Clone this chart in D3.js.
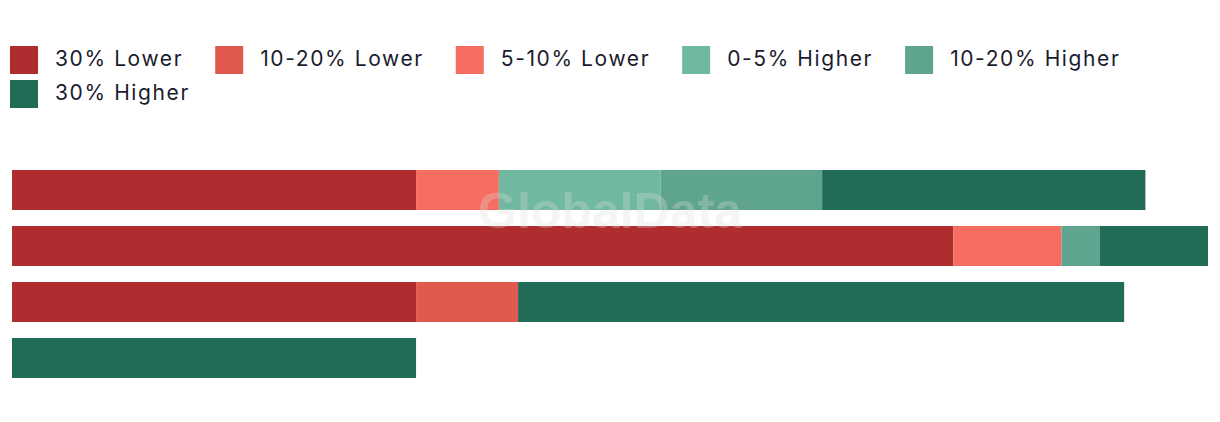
<!DOCTYPE html>
<html>
<head>
<meta charset="utf-8">
<script src="https://cdn.jsdelivr.net/npm/d3@7"></script>
<style>
  body { margin: 0; background: #fff; }
  svg { display: block; }
</style>
</head>
<body>
<svg id="chart" width="1220" height="422"></svg>
<script>
const svg = d3.select('#chart')
const width = +svg.attr('width')
const textColor = '#1b1b2f'

// rows have no visible labels in the original
const categories = ['Row 1', 'Row 2', 'Row 3', 'Row 4']
const seriesNames = ['30% Lower', '10-20% Lower', '5-10% Lower', '0-5% Higher', '10-20% Higher', '30% Higher']
const seriesColors = ['#b02d2f', '#e05a4e', '#f56e61', '#70b8a0', '#5fa48e', '#226b57']

const lower30 = [20, 46.6, 20, 0]
const lower10_20 = [0, 0, 5.05, 0]
const lower5_10 = [4.1, 5.35, 0, 0]
const higher0_5 = [8, 0, 0, 0]
const higher10_20 = [8, 1.9, 0, 0]
const higher30 = [16, 5.35, 30, 20]

const seriesValues = [lower30, lower10_20, lower5_10, higher0_5, higher10_20, higher30]

// build table rows for d3.stack
const table = categories.map((c, i) => {
  const row = { category: c }
  seriesNames.forEach((s, j) => { row[s] = seriesValues[j][i] })
  return row
})

const stacked = d3.stack().keys(seriesNames)(table)

const color = d3.scaleOrdinal().domain(seriesNames).range(seriesColors)

const totals = table.map(r => d3.sum(seriesNames, s => r[s]))

const x = d3.scaleLinear()
  .domain([0, d3.max(totals)])
  .range([12, 1208])

const y = d3.scaleBand()
  .domain(categories)
  .range([162, 386])
  .paddingInner(16 / 56)
  .paddingOuter(8 / 56)

// bars
svg.append('g')
  .selectAll('g')
  .data(stacked)
  .join('g')
    .attr('fill', d => color(d.key))
  .selectAll('rect')
  .data(d => d)
  .join('rect')
    .attr('x', d => x(d[0]))
    .attr('y', d => y(d.data.category))
    .attr('width', d => x(d[1]) - x(d[0]))
    .attr('height', y.bandwidth())

// legend, flows left to right and wraps
const legend = svg.append('g').attr('class', 'legend')
let lx = 10
let ly = 46
const sw = 28
const rowStep = 34
seriesNames.forEach((name, i) => {
  const item = legend.append('g')
  const t = item.append('text')
    .attr('x', 45)
    .attr('y', 19.5)
    .attr('font-family', 'Inter, "Noto Sans", sans-serif')
    .attr('font-size', 21)
    .attr('letter-spacing', 1.6)
    .attr('fill', textColor)
    .text(name)
  const tw = t.node().getComputedTextLength()
  if (lx + 45 + tw > width - 10) {
    lx = 10
    ly += rowStep
  }
  item.attr('transform', `translate(${lx}, ${ly})`)
  item.append('rect')
    .attr('width', sw)
    .attr('height', sw)
    .attr('fill', color(name))
  lx += 45 + tw + 32
})

// watermark
svg.append('text')
  .attr('x', width / 2)
  .attr('y', 228)
  .attr('text-anchor', 'middle')
  .attr('font-family', '"Liberation Sans", Arial, sans-serif')
  .attr('font-weight', 'bold')
  .attr('font-size', 50)
  .attr('fill', '#dedede')
  .attr('fill-opacity', 0.3)
  .text('GlobalData')
</script>
</body>
</html>
